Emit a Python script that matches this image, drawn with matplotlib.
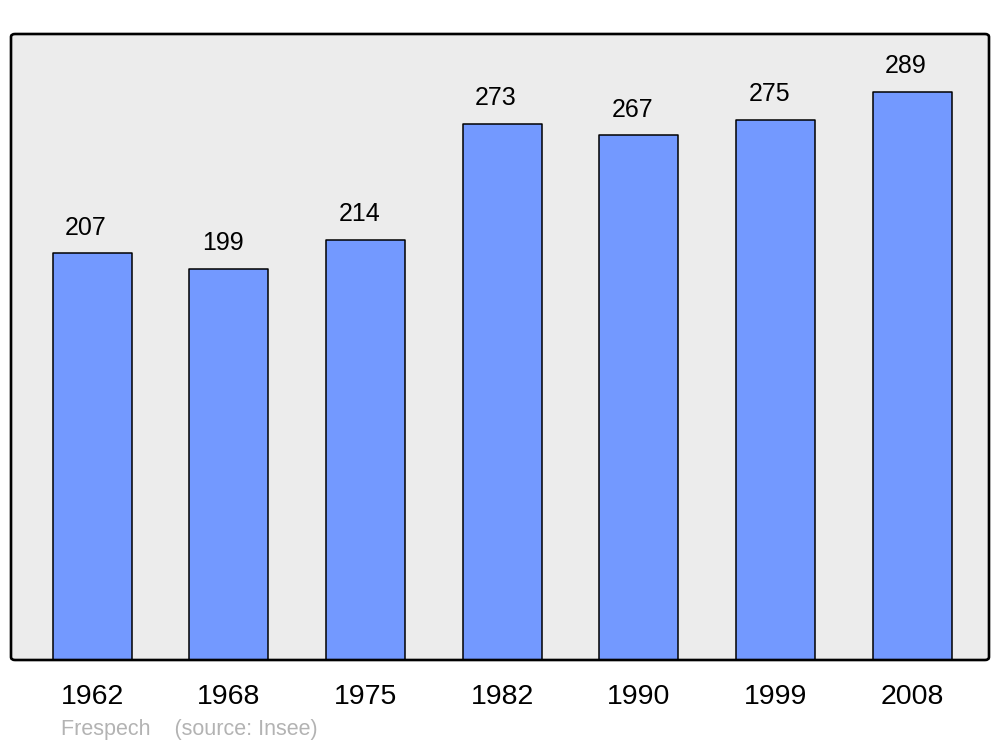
import matplotlib
matplotlib.use("Agg")
import matplotlib.pyplot as plt
from matplotlib.patches import FancyBboxPatch
import numpy as np

years = ["1962", "1968", "1975", "1982", "1990", "1999", "2008"]
population = [207, 199, 214, 273, 267, 275, 289]

plt.rcParams['font.family'] = ['Liberation Sans', 'DejaVu Sans']

fig = plt.figure(figsize=(10, 7.47), dpi=100)
ax = fig.add_axes([0.011, 1 - 660 / 747, 0.978, (660 - 34) / 747])
ax.set_facecolor('none')
for s in ax.spines.values():
    s.set_visible(False)

x = np.arange(len(years))
bars = ax.bar(x, population, width=0.578, color='#7399ff', edgecolor='black',
              linewidth=1.1, zorder=2)
for b in bars:
    b.set_joinstyle('round')

# rounded frame / background
frame = FancyBboxPatch((0.011, 1 - 660 / 747), 0.978, (660 - 34) / 747,
                       boxstyle="round,pad=0,rounding_size=0.004",
                       transform=fig.transFigure, facecolor='#ececec',
                       edgecolor='none', linewidth=0, zorder=0, clip_on=False)
ax.add_patch(frame)
border = FancyBboxPatch((0.011, 1 - 660 / 747), 0.978, (660 - 34) / 747,
                        boxstyle="round,pad=0,rounding_size=0.004",
                        transform=fig.transFigure, facecolor='none',
                        edgecolor='black', linewidth=1.9, zorder=3, clip_on=False)
ax.add_patch(border)

for xi, v in zip(x, population):
    ax.annotate(str(v), (xi - 0.045, v), xytext=(0, 13.5), textcoords='offset points',
                ha='center', va='baseline', fontsize=18, color='black')

ax.set_xlim(-0.593, 6.563)
ax.set_ylim(0, 318.6)
ax.set_yticks([])
ax.set_xticks(x)
ax.set_xticklabels(years, fontsize=20.5)
ax.tick_params(axis='x', length=0, pad=17)

fig.text(0.061, 1 - 730 / 747, "Frespech    (source: Insee)", fontsize=15.5,
         color='#b3b3b3', ha='left', va='center')

fig.savefig('out.png', dpi=100, facecolor='white')
